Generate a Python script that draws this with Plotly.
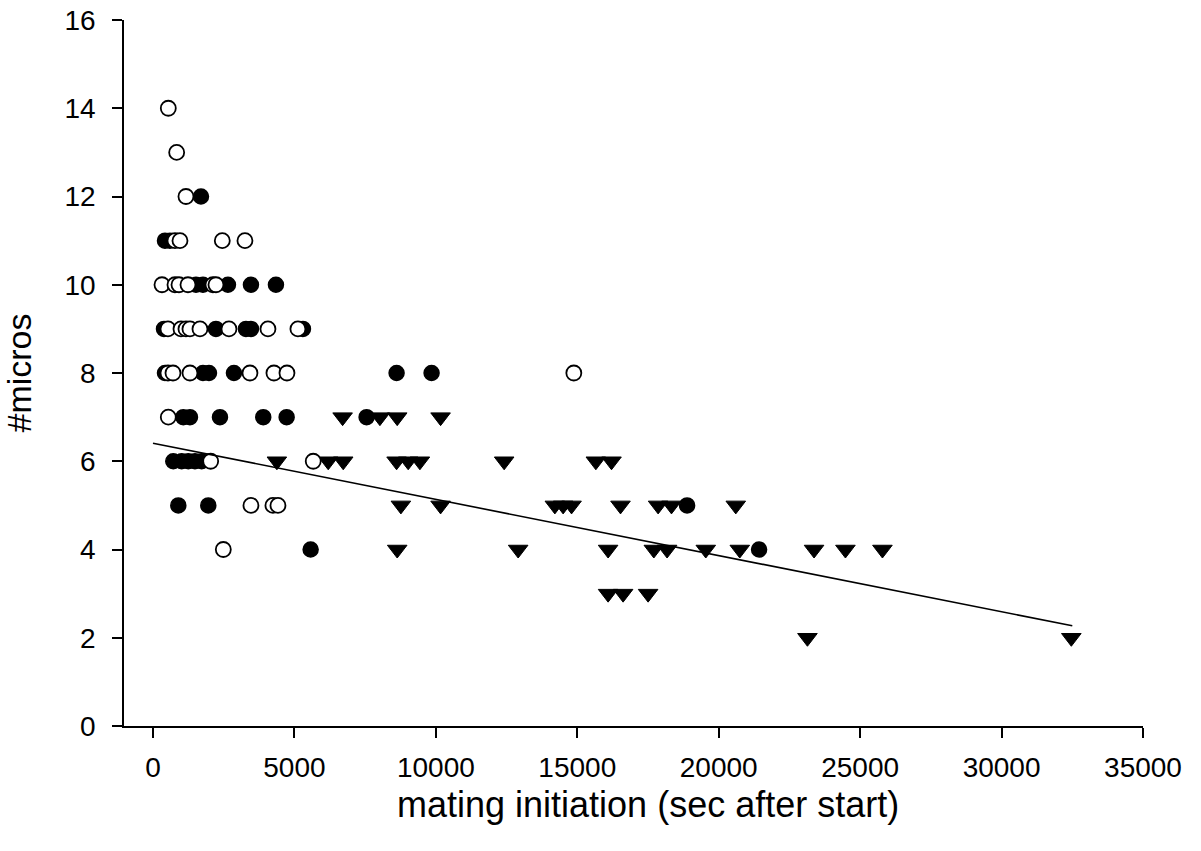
import plotly.graph_objects as go

# Time of mating initiation (s after start) and number of micros, per group
open_x = [541, 837, 1166,
          777, 954, 2450, 3251,
          318, 777, 919, 1237, 2120, 2226,
          530, 990, 1166, 1307, 1661, 2686, 4064, 5124,
          530, 707, 1307, 3428, 4276, 4736, 14878,
          541,
          2039, 5665,
          3463, 4240, 4418,
          2486]
open_y = [14, 13, 12,
          11, 11, 11, 11,
          10, 10, 10, 10, 10, 10,
          9, 9, 9, 9, 9, 9, 9, 9,
          8, 8, 8, 8, 8, 8, 8,
          7,
          6, 6,
          5, 5, 5,
          4]

filled_x = [1696,
            424, 600,
            1520, 1767, 2650, 3463, 4347,
            389, 2226, 3287, 3463, 5301,
            424, 1767, 1979, 2862, 8612, 9849,
            1071, 1307, 2368, 3898, 4725, 7552,
            717, 1014, 1248, 1484, 1721,
            895, 1955, 18882,
            5573, 21427]
filled_y = [12,
            11, 11,
            10, 10, 10, 10, 10,
            9, 9, 9, 9, 9,
            8, 8, 8, 8, 8, 8,
            7, 7, 7, 7, 7, 7,
            6, 6, 6, 6, 6,
            5, 5, 5,
            4, 4]

tri_x = [6704, 8022, 8634, 10167,
         4380, 6195, 6725, 8612, 9022, 9436, 12415, 15656, 16210,
         8764, 10167, 14207, 14500, 14797, 16528, 17858, 18330, 20603,
         8634, 12910, 16090, 17706, 18175, 19543, 20745, 23371, 24480, 25788,
         16090, 16620, 17504,
         23137, 32466]
tri_y = [7, 7, 7, 7,
         6, 6, 6, 6, 6, 6, 6, 6, 6,
         5, 5, 5, 5, 5, 5, 5, 5, 5,
         4, 4, 4, 4, 4, 4, 4, 4, 4, 4,
         3, 3, 3,
         2, 2]

# Linear trend line end points
fit_x = [0, 32500]
fit_y = [6.41, 2.27]

x_ticks = [0, 5000, 10000, 15000, 20000, 25000, 30000, 35000]
y_ticks = [0, 2, 4, 6, 8, 10, 12, 14, 16]

FONT = "Liberation Sans, Arial, Helvetica, sans-serif"

fig = go.Figure()
fig.add_trace(go.Scatter(
    x=tri_x, y=tri_y, mode="markers",
    marker=dict(symbol="triangle-down", size=17, color="black",
                line=dict(color="black", width=1)),
    cliponaxis=False, showlegend=False))
fig.add_trace(go.Scatter(
    x=filled_x, y=filled_y, mode="markers",
    marker=dict(symbol="circle", size=15, color="black",
                line=dict(color="black", width=1.5)),
    cliponaxis=False, showlegend=False))
fig.add_trace(go.Scatter(
    x=open_x, y=open_y, mode="markers",
    marker=dict(symbol="circle", size=15, color="white",
                line=dict(color="black", width=1.8)),
    cliponaxis=False, showlegend=False))
fig.add_trace(go.Scatter(
    x=fit_x, y=fit_y, mode="lines",
    line=dict(color="black", width=1.6),
    cliponaxis=False, showlegend=False))

fig.update_layout(
    width=1201, height=851,
    margin=dict(l=124, r=58, t=20, b=125),
    paper_bgcolor="white", plot_bgcolor="white",
    font=dict(family=FONT, color="black"),
)
fig.update_xaxes(
    range=[-1025, 35000], tickvals=x_ticks,
    ticktext=[str(v) for v in x_ticks],
    showgrid=False, zeroline=False, automargin=False,
    showline=True, linecolor="black", linewidth=1.6,
    ticks="outside", ticklen=10, tickwidth=1.6, tickcolor="black",
    tickfont=dict(size=28, family=FONT), ticklabelstandoff=6,
)
fig.update_yaxes(
    range=[0, 16], tickvals=y_ticks,
    showgrid=False, zeroline=False, automargin=False,
    showline=True, linecolor="black", linewidth=1.6,
    ticks="outside", ticklen=10, tickwidth=1.6, tickcolor="black",
    tickfont=dict(size=28, family=FONT), ticklabelstandoff=11,
    title=dict(text="#micros", font=dict(size=34, family=FONT), standoff=24),
)

# x-axis title, centred under the 0-35000 tick span
fig.add_annotation(
    text="mating initiation (sec after start)",
    xref="x", x=(x_ticks[0] + x_ticks[-1]) / 2,
    yref="paper", y=0, yshift=-78, yanchor="middle",
    showarrow=False, font=dict(size=36, family=FONT, color="black"),
)

fig.write_html("out.html")
